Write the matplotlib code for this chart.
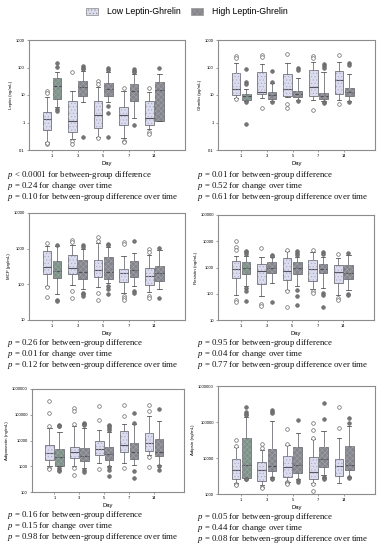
import numpy as np
import matplotlib
matplotlib.use('Agg')
import matplotlib.pyplot as plt
from matplotlib.patches import Patch, PathPatch

plt.rcParams['font.family'] = ['Liberation Sans', 'DejaVu Sans']
plt.rcParams['mathtext.fontset'] = 'custom'
plt.rcParams['mathtext.it'] = 'Liberation Serif:italic'
plt.rcParams['mathtext.rm'] = 'Liberation Serif'
plt.rcParams['hatch.linewidth'] = 0.4

days = ['1', '3', '5', '7', '14']

# box stats per day: whislo, q1, median, q3, whishi ; outliers separate
leptin_low = [[0.19, 0.54, 1.3, 2.5, 8.2], [0.25, 0.45, 1.1, 5.9, 13.5], [0.3, 0.64, 1.8, 6.2, 20],
              [0.27, 0.82, 1.9, 3.8, 14], [0.59, 0.78, 1.5, 6.2, 12.5]]
leptin_low_out = [[14, 12, 0.17, 0.18], [68, 0.21, 0.16], [33, 25, 0.28], [18, 0.22, 0.19], [18, 0.45, 0.39]]
leptin_high = [[3.6, 7.2, 22, 41, 66], [5.7, 9.5, 19, 31, 76], [5.7, 9.5, 16.5, 27, 66],
               [1.4, 6.2, 14, 25, 57], [1.1, 1.1, 15.5, 29, 60]]
leptin_high_out = [[150, 105, 3.1, 2.7], [115, 100, 87, 0.3], [95, 80, 4.1, 2.2, 0.3], [87, 77, 66, 0.78], [100]]

ghrelin_low = [[8, 10, 16.5, 62, 147], [7.8, 10.6, 12.8, 66, 136], [8.5, 9.2, 17, 56, 150],
               [6.4, 9.4, 19.5, 82, 155], [6.8, 11, 36, 73, 165]]
ghrelin_low_out = [[270, 220, 7], [295, 250, 3.5], [310, 4.6, 3.5], [255, 220, 2.8], [295, 4.6]]
ghrelin_high = [[5.9, 6.4, 9, 11, 17], [6.1, 7.4, 10, 12.8, 27], [6.4, 8.5, 11, 14, 42],
                [5.9, 7.4, 9.2, 12, 68], [6.1, 9.2, 12.8, 18, 56]]
ghrelin_high_out = [[85, 30, 26, 5.5, 0.85], [73, 30, 5.6], [97, 83, 5.9], [135, 118, 100, 5.5, 5.0], [140, 128, 5.8]]

mcp_low = [[87, 190, 312, 855, 1200], [95, 200, 290, 650, 1250], [82, 160, 260, 490, 1400],
           [56, 114, 210, 270, 610], [61, 96, 170, 280, 680]]
mcp_low_out = [[1400, 82, 45], [1750, 1500, 65, 42], [2100, 1650, 56, 36], [1550, 1350, 47, 42, 37], [950, 810, 47, 42]]
mcp_high = [[52, 153, 240, 437, 1200], [73, 143, 225, 490, 950], [110, 137, 225, 590, 1150],
            [87, 160, 245, 455, 760], [73, 128, 213, 335, 900]]
mcp_high_out = [[1300, 37, 35], [1250, 1100, 58, 52, 47], [1350, 1250, 87, 73, 52], [1650, 65, 58], [1020, 42]]

resistin_low = [[93, 410, 915, 1700, 2800], [80, 227, 740, 1350, 2440], [145, 330, 740, 2230, 4400],
                [155, 305, 915, 1920, 4000], [93, 250, 680, 1230, 2300]]
resistin_low_out = [[9800, 5900, 4800, 60, 47], [5400, 42, 35], [4700, 125, 30], [4500, 125, 110], [3300, 70, 60]]
resistin_high = [[195, 550, 1000, 1560, 2800], [260, 600, 970, 1560, 2440], [195, 550, 1000, 1650, 2600],
                 [170, 640, 915, 1350, 2600], [135, 355, 600, 1230, 3000]]
resistin_high_out = [[4300, 3800, 3300, 170, 125, 55], [3000, 2700, 48], [4400, 3600, 3000, 145, 80, 38],
                     [3800, 3300, 107, 90, 30], [3600, 100, 90]]

adipo_low = [[1060, 1700, 3300, 6500, 31000], [1060, 2100, 3500, 5600, 36000], [1350, 2840, 4700, 10000, 26500],
             [1350, 3500, 6700, 24000, 44000], [2750, 4000, 8000, 19600, 87000]]
adipo_low_out = [[330000, 117000, 38000, 860, 790], [190000, 145000, 44000, 860, 450], [225000, 64000, 790],
                 [245000, 93000, 860], [250000, 135000, 2300, 940]]
adipo_high = [[1000, 1060, 2300, 4800, 20800], [860, 1560, 2500, 5100, 31000], [1000, 1800, 3000, 5600, 20800],
              [1100, 1900, 3700, 8000, 44000], [1160, 2600, 3600, 11500, 55000]]
adipo_high_out = [[40000, 38000, 36000, 860, 740, 640], [50000, 45000, 41000, 740, 590],
                  [41000, 36000, 31000, 26000, 950, 740, 430], [117000, 46000, 680, 350], [167000, 1060, 740]]

adipsin_low = [[2060, 2600, 4650, 9200, 19800], [1780, 2350, 4650, 7900, 16700], [2200, 3030, 5500, 11400, 23000],
               [2060, 2550, 4170, 10400, 33000], [2060, 3230, 6000, 9400, 35000]]
adipsin_low_out = [[31500, 21000, 1900, 1780], [24500, 18500, 1600, 1500], [62000, 24000, 2100, 2000, 1900],
                   [92000, 60000, 37000, 1900, 1200], [255000, 70000]]
adipsin_high = [[2700, 2840, 6250, 35000, 135000], [2900, 4250, 6100, 17400, 110000], [2550, 3900, 6400, 19800, 50000],
                [3300, 5500, 9200, 19800, 56000], [3030, 4650, 6500, 21600, 79000]]
adipsin_high_out = [[265000, 190000, 170000, 155000, 2650, 2550], [215000, 195000, 175000, 2750, 2600],
                    [115000, 2450, 2200], [330000, 120000, 3000, 2800, 2600], [132000, 92000, 2900, 2750]]

leptin_p = ['< 0.0001 for between-group difference', '= 0.24 for change over time',
            '= 0.10 for between-group difference over time']
ghrelin_p = ['= 0.01 for between-group difference', '= 0.52 for change over time',
             '= 0.61 for between-group difference over time']
mcp_p = ['= 0.26 for between-group difference', '= 0.01 for change over time',
         '= 0.12 for between-group difference over time']
resistin_p = ['= 0.95 for between-group difference', '= 0.04 for change over time',
              '= 0.77 for between-group difference over time']
adipo_p = ['= 0.16 for between-group difference', '= 0.15 for change over time',
           '= 0.98 for between-group difference over time']
adipsin_p = ['= 0.05 for between-group difference', '= 0.44 for change over time',
             '= 0.08 for between-group difference over time']

LOW_FACE = '#dcdcef'
LOW_HATCH = '#a9a9c8'
HIGH_FACE = '#85858d'
HIGH_FACE_D1 = '#7b9486'
HIGH_HATCH = '#a2a2a9'
EDGE = '#707078'

W, H = 381, 550
fig = plt.figure(figsize=(W / 100, H / 100), dpi=100)


def draw_group(ax, stats, out, pos, face, hatchcol, hatch, fl_face, first_face=None):
    bx = [dict(whislo=s[0], q1=s[1], med=s[2], q3=s[3], whishi=s[4], fliers=o) for s, o in zip(stats, out)]
    r = ax.bxp(bx, positions=pos, widths=0.34, patch_artist=True, manage_ticks=False,
               boxprops=dict(edgecolor=EDGE, linewidth=0.6),
               whiskerprops=dict(color=EDGE, linewidth=0.6),
               capprops=dict(color='#555', linewidth=0.6),
               medianprops=dict(color='#505058', linewidth=0.8),
               flierprops=dict(marker='o', markersize=2.6, markerfacecolor=fl_face,
                               markeredgecolor='#666', markeredgewidth=0.5))
    for i, b in enumerate(r['boxes']):
        b.set_facecolor(first_face if (i == 0 and first_face) else face)
        ax.add_patch(PathPatch(b.get_path(), facecolor='none', edgecolor=hatchcol,
                               linewidth=0, hatch=hatch, zorder=b.get_zorder() + 0.1))


def panel(rect, low, low_out, high, high_out, ylim, ylabel, ptexts, px, py, dayy):
    ax = fig.add_axes([rect[0] / W, 1 - rect[3] / H, (rect[2] - rect[0]) / W, (rect[3] - rect[1]) / H])
    x = np.arange(1, len(days) + 1)
    draw_group(ax, low, low_out, x - 0.2, LOW_FACE, LOW_HATCH, '.....', 'white')
    draw_group(ax, high, high_out, x + 0.2, HIGH_FACE, HIGH_HATCH, 'xxxxxx', '#777', HIGH_FACE_D1)
    ax.set_yscale('log')
    ax.set_ylim(*ylim)
    ax.set_xlim(0.1, 6.2)
    ticks = 10.0 ** np.arange(np.log10(ylim[0]), np.log10(ylim[1]) + 0.5)
    ax.set_yticks(ticks)
    ax.set_yticklabels([('%g' % t) if t < 1 else str(int(round(t))) for t in ticks])
    ax.yaxis.set_minor_locator(matplotlib.ticker.NullLocator())
    ax.set_xticks(x)
    ax.set_xticklabels(days)
    ax.tick_params(labelsize=3, length=1.5, width=0.5, color='#777', pad=1.5)
    for s in ax.spines.values():
        s.set_color('#8c8c8c')
        s.set_linewidth(0.8)
    ax.set_ylabel(ylabel, fontsize=3.2, labelpad=2)
    fig.text((rect[0] + rect[2]) / 2 / W, 1 - dayy / H, 'Day', fontsize=4.2, ha='center', va='center')
    for k, t in enumerate(ptexts):
        fig.text(px / W, 1 - (py + 11 * k) / H, '$p$ ' + t, fontsize=6.3, family='Liberation Serif',
                 ha='left', va='center', color='#111')
    return ax


panel((29, 40, 185, 150), leptin_low, leptin_low_out, leptin_high, leptin_high_out, (0.1, 1000),
      'Leptin (ng/mL)', leptin_p, 7, 175, 164)
panel((218, 40, 375, 150), ghrelin_low, ghrelin_low_out, ghrelin_high, ghrelin_high_out, (0.1, 1000),
      'Ghrelin (pg/mL)', ghrelin_p, 197, 175, 164)
panel((29, 213, 185, 320), mcp_low, mcp_low_out, mcp_high, mcp_high_out, (10, 10000),
      'MCP (pg/mL)', mcp_p, 7, 343, 333)
panel((218, 215, 374, 320), resistin_low, resistin_low_out, resistin_high, resistin_high_out, (10, 100000),
      'Resistin (ng/mL)', resistin_p, 197, 343, 333)
panel((32, 389, 184, 492), adipo_low, adipo_low_out, adipo_high, adipo_high_out, (100, 1000000),
      'Adiponectin (ng/mL)', adipo_p, 7, 515, 505)
panel((218, 386, 375, 494), adipsin_low, adipsin_low_out, adipsin_high, adipsin_high_out, (1000, 1000000),
      'Adipsin (ng/mL)', adipsin_p, 197, 517, 507)

handles = [Patch(facecolor=LOW_FACE, edgecolor='#888', hatch='.....', linewidth=0.5),
           Patch(facecolor=HIGH_FACE, edgecolor='#999', hatch='xxxxxx', linewidth=0.5)]
fig.legend(handles, ['Low Leptin-Ghrelin', 'High Leptin-Ghrelin'], loc='center', ncol=2,
           bbox_to_anchor=(0.49, 1 - 12 / H), frameon=False, fontsize=6.3,
           handlelength=1.4, handleheight=0.8, handletextpad=1.0, columnspacing=1.2)

fig.savefig('out.png', dpi=100)
